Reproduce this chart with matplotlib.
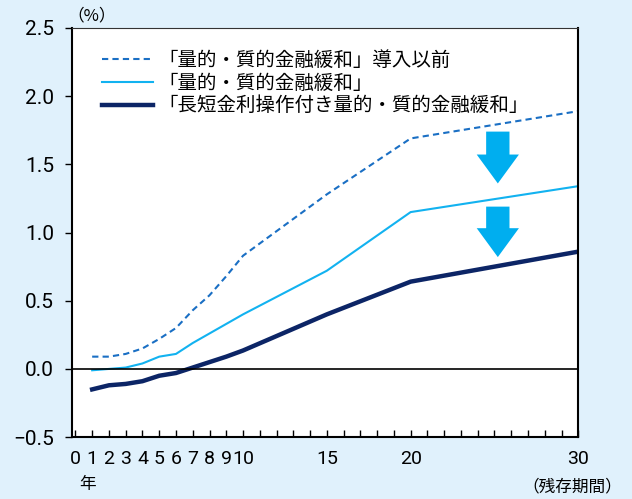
import matplotlib.pyplot as plt
import numpy as np

plt.rcParams['font.family'] = ['Noto Sans CJK JP', 'DejaVu Sans']

# 残存期間（年）
years_pre = [1, 2, 3, 4, 5, 6, 7, 8, 9, 10, 15, 20, 30]
yield_pre = [0.09, 0.09, 0.11, 0.15, 0.22, 0.30, 0.43, 0.54, 0.68, 0.83, 1.28, 1.69, 1.89]

years_qqe = [1, 2, 3, 4, 5, 6, 7, 8, 9, 10, 15, 20, 30]
yield_qqe = [-0.01, 0.00, 0.01, 0.04, 0.09, 0.11, 0.19, 0.26, 0.33, 0.40, 0.72, 1.15, 1.34]

years_ycc = [1, 2, 3, 4, 5, 6, 7, 8, 9, 10, 15, 20, 30]
yield_ycc = [-0.15, -0.12, -0.11, -0.09, -0.05, -0.03, 0.01, 0.05, 0.09, 0.135, 0.40, 0.64, 0.86]

names = ['「量的・質的金融緩和」導入以前',
         '「量的・質的金融緩和」',
         '「長短金利操作付き量的・質的金融緩和」']

xtick_show = [0, 1, 2, 3, 4, 5, 6, 7, 8, 9, 10, 15, 20, 30]
yticks = [-0.5, 0.0, 0.5, 1.0, 1.5, 2.0, 2.5]

bg = '#e0f1fc'
c_pre = '#1a6fc4'
c_qqe = '#12b2f0'
c_ycc = '#0c2566'
c_arrow = '#00aeef'
num_font = ['Roboto', 'DejaVu Sans']

fig = plt.figure(figsize=(6.32, 4.99), dpi=100, facecolor=bg)
ax = fig.add_axes([0.114, 0.124, 0.801, 0.820])
ax.set_facecolor('white')

ax.plot(years_pre, yield_pre, color=c_pre, lw=1.5, ls=(0, (3, 2)), label=names[0])
ax.plot(years_qqe, yield_qqe, color=c_qqe, lw=1.5, label=names[1])
ax.plot(years_ycc, yield_ycc, color=c_ycc, lw=3.2, label=names[2])
ax.axhline(0, color='black', lw=1.2)

# arrows
for y0, y1 in [(1.74, 1.36), (1.19, 0.82)]:
    ax.annotate('', xy=(25.2, y1), xytext=(25.2, y0),
                arrowprops=dict(arrowstyle='simple,head_width=1.9,head_length=1.3,tail_width=1.05',
                                color=c_arrow, lw=0, shrinkA=0, shrinkB=0,
                                mutation_scale=16))

ax.set_xlim(-0.2, 30)
ax.set_ylim(-0.5, 2.5)

ax.set_xticks(range(0, 31))
ax.set_xticklabels([str(t) if t in xtick_show else '' for t in range(0, 31)],
                   family=num_font, fontsize=14)
ax.tick_params(axis='x', direction='in', length=5, width=1, pad=9)
ax.set_yticks(yticks)
ax.set_yticklabels(['−0.5' if v < 0 else f'{v:.1f}' for v in yticks],
                   family=num_font, fontsize=15)
ax.tick_params(axis='y', direction='out', length=5, width=1, pad=8)

for s in ['left', 'bottom', 'right']:
    ax.spines[s].set_color('black')
    ax.spines[s].set_linewidth(1.5)
ax.spines['top'].set_color('#333333')
ax.spines['top'].set_linewidth(0.8)

leg = ax.legend(loc='upper left', bbox_to_anchor=(0.025, 0.99), frameon=False,
                fontsize=14, handlelength=2.6, labelspacing=0.1, handletextpad=0.3)

fig.text(0.145, 0.968, '（%）', fontsize=12, ha='center', va='center')
fig.text(0.139, 0.030, '年', fontsize=12, ha='center', va='center')
fig.text(0.985, 0.024, '（残存期間）', fontsize=12, ha='right', va='center')

fig.savefig('out.png', dpi=100, facecolor=bg)
